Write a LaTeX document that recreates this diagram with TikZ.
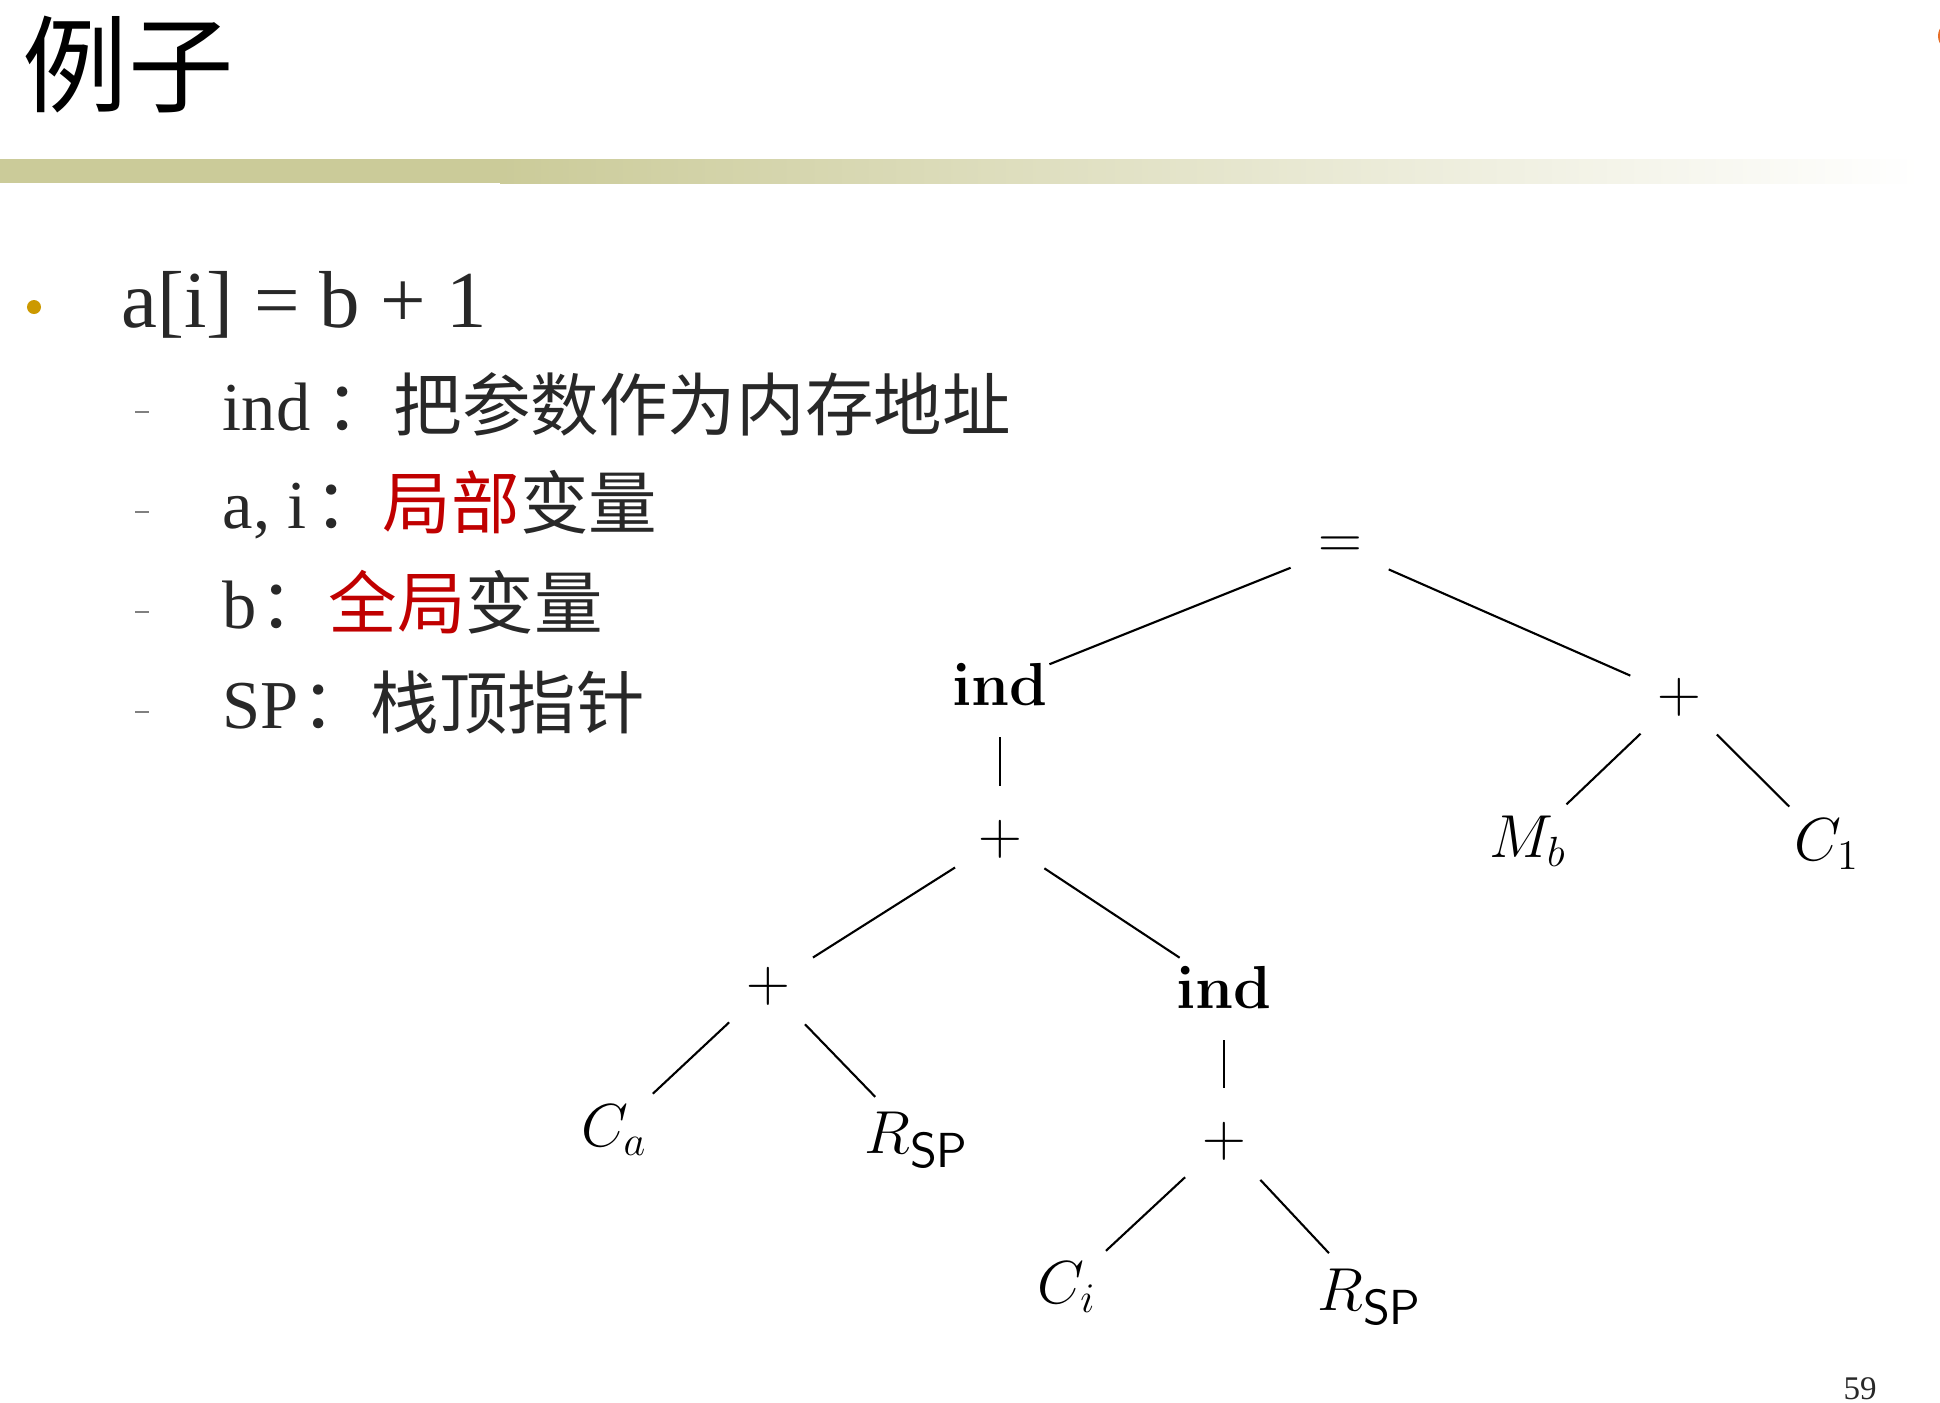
\documentclass[tikz,border=0pt]{standalone}
\usepackage{amsmath}
\usepackage[no-math]{fontspec}
\setmainfont{Liberation Serif}
\newfontfamily\cjk{Noto Sans CJK SC}
\definecolor{barc}{RGB}{203,203,153}
\definecolor{dotc}{RGB}{204,153,0}
\definecolor{redc}{RGB}{192,0,0}
\definecolor{txtc}{RGB}{40,40,40}
\definecolor{orc}{RGB}{230,110,40}
\newcommand{\rsp}{$R_{\text{\fontsize{14}{14}\selectfont\sffamily SP}}$}

\begin{document}
\begin{tikzpicture}[
  tn/.style={circle,inner sep=0pt,minimum size=1.05cm,font=\fontsize{18}{20}\selectfont},
  edge/.style={line width=0.6pt},
  item/.style={anchor=base west,inner sep=0pt,text=txtc,font=\fontsize{19.5}{22}\selectfont}
]
\useasboundingbox (0,0) rectangle (19.4,-14.02);

% title and bar
\node[anchor=west,inner sep=0pt] (title) at (0.22,-0.65) {\fontsize{30}{32}\selectfont\cjk 例子};
\fill[barc] (0,-1.59) rectangle (5,-1.83);
\shade[left color=barc,right color=white] (5,-1.59) rectangle (19.2,-1.83);
\fill[orc] (19.53,-0.36) circle[radius=0.15];

% bullet list
\fill[dotc] (0.34,-3.07) circle[radius=0.07];
\node[anchor=base west,inner sep=0pt,text=txtc,font=\fontsize{23}{26}\selectfont] (expr) at (1.21,-3.27) {a[i] = b + 1};
\foreach \y in {4.12,5.12,6.12,7.12}
  \draw[gray,line width=0.8pt] (1.35,-\y) -- (1.49,-\y);
\node[item] (l1) at (2.22,-4.30) {ind\hspace{0.15cm}{\cjk ：把参数作为内存地址}};
\node[item] (l2) at (2.22,-5.28) {a, i\hspace{0.08cm}{\cjk ：\textcolor{redc}{局部}变量}};
\node[item] (l3) at (2.22,-6.28) {b\hspace{0.03cm}{\cjk ：\textcolor{redc}{全局}变量}};
\node[item] (l4) at (2.22,-7.28) {SP\hspace{0.03cm}{\cjk ：栈顶指针}};

% tree
\node[tn] (eq) at (13.40,-5.48) {$=$};
\node[tn] (indA) at (10.00,-6.84) {$\mathbf{ind}$};
\node[tn] (plusR) at (16.79,-6.97) {$+$};
\node[tn] (plusA) at (10.00,-8.39) {$+$};
\node[tn] (Mb) at (15.28,-8.41) {$M_b$};
\node[tn] (Cone) at (18.27,-8.44) {$C_1$};
\node[tn] (plusB) at (7.68,-9.86) {$+$};
\node[tn] (indB) at (12.24,-9.87) {$\mathbf{ind}$};
\node[tn] (Ca) at (6.14,-11.30) {$C_a$};
\node[tn] (RspA) at (9.17,-11.40) {\rsp};
\node[tn] (plusC) at (12.24,-11.41) {$+$};
\node[tn] (Ci) at (10.67,-12.87) {$C_i$};
\node[tn] (RspB) at (13.70,-12.97) {\rsp};

\draw[edge] (eq) -- (indA);
\draw[edge] (eq) -- (plusR);
\draw[edge] (indA) -- (plusA);
\draw[edge] (plusR) -- (Mb);
\draw[edge] (plusR) -- (Cone);
\draw[edge] (plusA) -- (plusB);
\draw[edge] (plusA) -- (indB);
\draw[edge] (plusB) -- (Ca);
\draw[edge] (plusB) -- (RspA);
\draw[edge] (indB) -- (plusC);
\draw[edge] (plusC) -- (Ci);
\draw[edge] (plusC) -- (RspB);

\node[anchor=base,inner sep=0pt,text=txtc,font=\fontsize{9.4}{11}\selectfont] (page) at (18.60,-13.99) {59};
\end{tikzpicture}
\end{document}
